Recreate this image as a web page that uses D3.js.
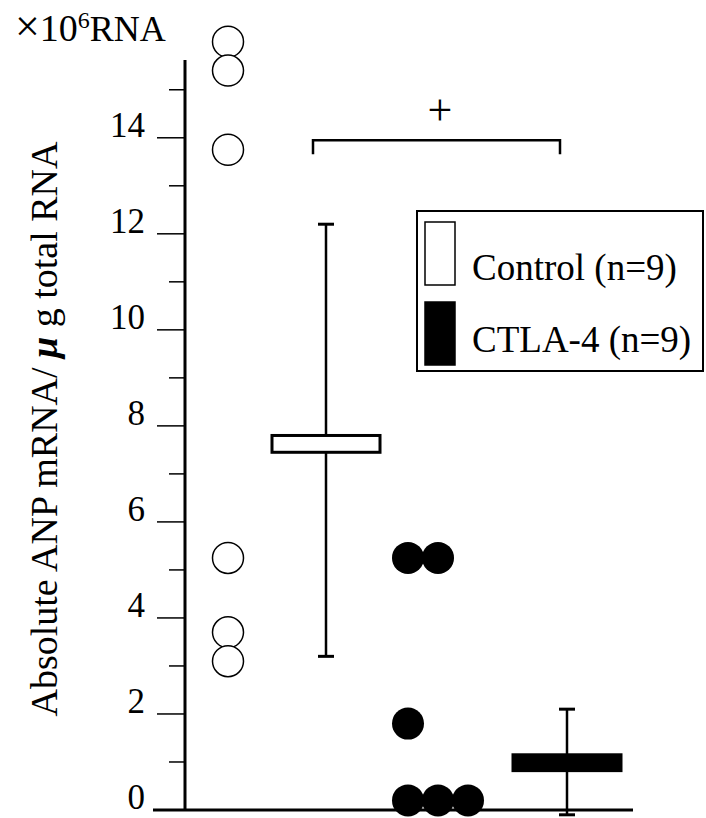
<!DOCTYPE html>
<html>
<head>
<meta charset="utf-8">
<script src="https://cdn.jsdelivr.net/npm/d3@7"></script>
<style>
  html, body { margin: 0; padding: 0; background: #fff; }
  svg { display: block; }
  text { font-family: "Liberation Serif", "Times New Roman", serif; fill: #000; }
</style>
</head>
<body>
<svg id="chart" width="706" height="818"></svg>
<script>
// ---- data ----
const groups = ["Control points", "Control mean", "CTLA-4 points", "CTLA-4 mean"];
const controlValues = [16.0, 15.4, 13.75, 5.25, 3.7, 3.1];
const controlSlot = [0, 0, 0, 0, 0, 0];
const ctlaValues = [5.25, 5.25, 1.8, 0.2, 0.2, 0.2];
const ctlaSlot = [-1, 0, -1, -1, 0, 1];
const summary = [
  { group: "Control mean", mean: 7.62, boxLo: 7.45, boxHi: 7.8, low: 3.2, high: 12.2, fill: "#fff" },
  { group: "CTLA-4 mean", mean: 0.98, boxLo: 0.82, boxHi: 1.15, low: -0.1, high: 2.1, fill: "#000" }
];
const yTicksMajor = [0, 2, 4, 6, 8, 10, 12, 14];
const yTicksMinor = [1, 3, 5, 7, 9, 11, 13, 15];
const legendItems = [
  { label: "Control (n=9)", fill: "#fff" },
  { label: "CTLA-4 (n=9)", fill: "#000" }
];
const bracketGroups = ["Control mean", "CTLA-4 mean"];
const bracketValue = 13.95;
const significance = "+";

// ---- layout ----
const svg = d3.select("#chart");
const y = d3.scaleLinear().domain([0, 15.62]).range([810, 60]);
const x = d3.scaleOrdinal().domain(groups).range([228, 326, 438, 567]);
const axisX = 185;
const r = 15.5;
const slotW = 30;

// y axis line
svg.append("line").attr("x1", axisX).attr("x2", axisX)
  .attr("y1", y(15.62)).attr("y2", y(0)).attr("stroke", "#000").attr("stroke-width", 3);
// x axis line
svg.append("line").attr("x1", 153).attr("x2", 633)
  .attr("y1", y(0)).attr("y2", y(0)).attr("stroke", "#000").attr("stroke-width", 3);

// ticks
svg.selectAll(".tmaj").data(yTicksMajor.filter(d => d > 0)).enter().append("line")
  .attr("x1", axisX - 28).attr("x2", axisX).attr("y1", d => y(d)).attr("y2", d => y(d))
  .attr("stroke", "#000").attr("stroke-width", 1.5);
svg.selectAll(".tmin").data(yTicksMinor).enter().append("line")
  .attr("x1", axisX - 16).attr("x2", axisX).attr("y1", d => y(d)).attr("y2", d => y(d))
  .attr("stroke", "#000").attr("stroke-width", 1.5);
svg.selectAll(".tlab").data(yTicksMajor).enter().append("text")
  .attr("x", 145).attr("y", d => y(d) - 1)
  .attr("text-anchor", "end").attr("font-size", 35).text(d => d);

// top unit label
const unit = svg.append("text").attr("x", 15).attr("y", 41).attr("font-size", 38);
unit.append("tspan").attr("font-size", 44).text("×");
unit.append("tspan").text("10");
unit.append("tspan").attr("font-size", 24).attr("dy", -13).text("6");
unit.append("tspan").attr("dy", 13).attr("font-size", 36).text("RNA");

// y title
const title = svg.append("text")
  .attr("transform", `translate(57, 429) rotate(-90)`)
  .attr("text-anchor", "middle").attr("font-size", 38);
title.append("tspan").text("Absolute ANP mRNA/ ");
title.append("tspan").attr("font-style", "italic").attr("font-weight", "bold").text("μ");
title.append("tspan").text(" g total RNA");

// error bars and boxes
const capW = 16, boxW = 108;
summary.forEach(s => {
  const cx = x(s.group);
  svg.append("line").attr("x1", cx).attr("x2", cx).attr("y1", y(s.high)).attr("y2", y(s.low))
    .attr("stroke", "#000").attr("stroke-width", 2.5);
  [s.high, s.low].forEach(v => {
    svg.append("line").attr("x1", cx - capW / 2).attr("x2", cx + capW / 2)
      .attr("y1", y(v)).attr("y2", y(v)).attr("stroke", "#000").attr("stroke-width", 3);
  });
  svg.append("rect").attr("x", cx - boxW / 2).attr("width", boxW)
    .attr("y", y(s.boxHi)).attr("height", y(s.boxLo) - y(s.boxHi))
    .attr("fill", s.fill).attr("stroke", "#000").attr("stroke-width", 3);
});

// points
svg.selectAll(".cpt").data(controlValues).enter().append("circle")
  .attr("cx", (d, i) => x("Control points") + controlSlot[i] * slotW)
  .attr("cy", d => y(d)).attr("r", r)
  .attr("fill", "#fff").attr("stroke", "#000").attr("stroke-width", 1.5);
svg.selectAll(".tpt").data(ctlaValues).enter().append("circle")
  .attr("cx", (d, i) => x("CTLA-4 points") + ctlaSlot[i] * slotW)
  .attr("cy", d => y(d)).attr("r", r + 0.5)
  .attr("fill", "#000");

// bracket
const bx1 = x(bracketGroups[0]) - 13, bx2 = x(bracketGroups[1]) - 7;
svg.append("path")
  .attr("d", `M${bx1},${y(bracketValue) + 14} V${y(bracketValue)} H${bx2} V${y(bracketValue) + 14}`)
  .attr("fill", "none").attr("stroke", "#000").attr("stroke-width", 2.5);
svg.append("text").attr("x", 440).attr("y", y(bracketValue) - 15)
  .attr("text-anchor", "middle").attr("font-size", 44).text(significance);

// legend
const lg = svg.append("g");
lg.append("rect").attr("x", 417).attr("y", 211).attr("width", 286).attr("height", 160)
  .attr("fill", "#fff").attr("stroke", "#000").attr("stroke-width", 2);
legendItems.forEach((d, i) => {
  lg.append("rect").attr("x", 425).attr("y", 222 + i * 80).attr("width", 30).attr("height", 63)
    .attr("fill", d.fill).attr("stroke", "#000").attr("stroke-width", 1.5);
  lg.append("text").attr("x", 472).attr("y", 280 + i * 72).attr("font-size", 37).text(d.label);
});
</script>
</body>
</html>
